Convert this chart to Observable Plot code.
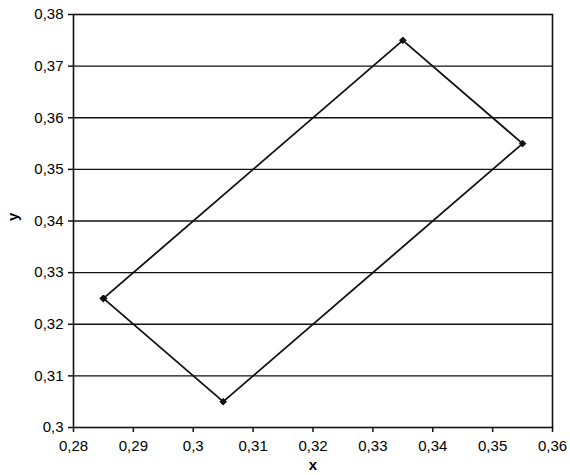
<!DOCTYPE html>
<html>
<head>
<meta charset="utf-8">
<script src="https://cdn.jsdelivr.net/npm/d3@7"></script>
<script src="https://cdn.jsdelivr.net/npm/@observablehq/plot@0.6"></script>
<style>
  body { margin: 0; background: #fff; }
  #chart svg { font-family: "Liberation Sans", Arial, sans-serif; }
</style>
</head>
<body>
<div id="chart"></div>
<script>
const xs = [0.285, 0.305, 0.355, 0.335, 0.285];
const ys = [0.325, 0.305, 0.355, 0.375, 0.325];
const xTicks = [0.28, 0.29, 0.30, 0.31, 0.32, 0.33, 0.34, 0.35, 0.36];
const yTicks = [0.30, 0.31, 0.32, 0.33, 0.34, 0.35, 0.36, 0.37, 0.38];
const gridY = [0.31, 0.32, 0.33, 0.34, 0.35, 0.36, 0.37];

const pts = xs.map((x, i) => ({x, y: ys[i]}));
const fmt = d => String(+d.toFixed(2)).replace(".", ",");

const chart = Plot.plot({
  width: 570,
  height: 475,
  marginLeft: 73,
  marginRight: 18,
  marginTop: 14,
  marginBottom: 48,
  style: {fontSize: "15px", fontFamily: "Liberation Sans, Arial, sans-serif", color: "#000", background: "#fff"},
  x: {domain: [0.28, 0.36], ticks: xTicks, tickFormat: fmt, label: null},
  y: {domain: [0.30, 0.38], ticks: yTicks, tickFormat: fmt, label: null},
  marks: [
    Plot.ruleY(gridY, {stroke: "#111", strokeWidth: 1.3}),
    Plot.frame({stroke: "#111", strokeWidth: 1.6}),
    Plot.axisX({ticks: xTicks, tickFormat: fmt, tickSize: 5, tickPadding: 8, label: null, stroke: "#111", strokeWidth: 1.5}),
    Plot.axisY({ticks: yTicks, tickFormat: fmt, tickSize: 5, tickPadding: 5, label: null, stroke: "#111", strokeWidth: 1.5}),
    Plot.line(pts, {x: "x", y: "y", stroke: "#111", strokeWidth: 1.8}),
    Plot.dot(pts, {x: "x", y: "y", symbol: "diamond2", r: 3, fill: "#111", stroke: "#111", strokeWidth: 1}),
    Plot.text(["x"], {frameAnchor: "bottom", dy: 42, text: d => d, fontWeight: "bold", fontSize: 15}),
    Plot.text(["y"], {frameAnchor: "left", dx: -60, rotate: -90, text: d => d, fontWeight: "bold", fontSize: 15})
  ]
});
document.getElementById("chart").append(chart);
</script>
</body>
</html>
